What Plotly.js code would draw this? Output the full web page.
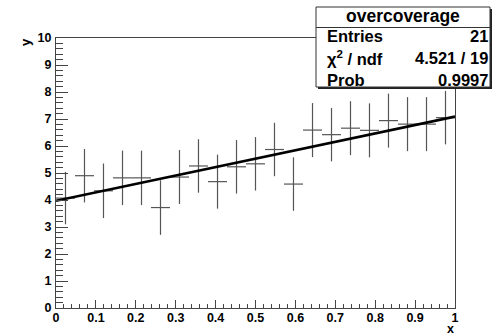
<!DOCTYPE html>
<html>
<head>
<meta charset="utf-8">
<script src="https://cdn.plot.ly/plotly-3.0.1.min.js"></script>
<style>
  html, body { margin: 0; padding: 0; background: #fff; }
  #plot { width: 493px; height: 335px; }
</style>
</head>
<body>
<div id="plot"></div>
<script>
// Bin centres of the 21-bin histogram on [0, 1]
const xVals = [0.0238, 0.0714, 0.1190, 0.1667, 0.2143, 0.2619, 0.3095, 0.3571, 0.4048, 0.4524,
               0.5000, 0.5476, 0.5952, 0.6429, 0.6905, 0.7381, 0.7857, 0.8333, 0.8810, 0.9286, 0.9762];
// Half bin width
const xErr = [0.0238, 0.0238, 0.0238, 0.0238, 0.0238, 0.0238, 0.0238, 0.0238, 0.0238, 0.0238,
              0.0238, 0.0238, 0.0238, 0.0238, 0.0238, 0.0238, 0.0238, 0.0238, 0.0238, 0.0238, 0.0238];
// Bin contents
const yVals = [4.07, 4.90, 4.34, 4.82, 4.82, 3.72, 4.85, 5.26, 4.68, 5.23,
               5.34, 5.87, 4.59, 6.59, 6.42, 6.66, 6.58, 6.94, 6.81, 6.81, 7.05];
// Bin errors
const yErr = [0.97, 0.99, 1.01, 1.01, 1.01, 1.01, 1.00, 0.99, 1.00, 0.99,
              0.99, 0.99, 0.99, 1.00, 0.99, 1.00, 1.00, 1.00, 1.00, 1.00, 0.99];
// Linear fit result: p0 + p1 * x
const fitParams = [3.97, 3.12];
const fitRange = [0, 1];

// Axis tick labels
const xTickVals = [0, 0.1, 0.2, 0.3, 0.4, 0.5, 0.6, 0.7, 0.8, 0.9, 1];
const xTickText = ['0', '0.1', '0.2', '0.3', '0.4', '0.5', '0.6', '0.7', '0.8', '0.9', '1'];
const yTickVals = [0, 1, 2, 3, 4, 5, 6, 7, 8, 9, 10];
const yTickText = ['0', '1', '2', '3', '4', '5', '6', '7', '8', '9', '10'];

// Statistics panel
const statsTitle = 'overcoverage';
const statsLabels = ['Entries', '\u03c7<sup>2</sup> / ndf', 'Prob'];
const statsValues = ['21', '4.521 / 19', '0.9997'];

const font = 'Liberation Sans, Arial, Helvetica, sans-serif';
const axisColor = '#444';
const errColor = '#555';

const fitX = fitRange;
const fitY = fitRange.map(v => fitParams[0] + fitParams[1] * v);

const data = [
  {
    type: 'scatter', mode: 'markers',
    x: xVals, y: yVals,
    marker: { size: 1, color: errColor },
    error_x: { type: 'data', array: xErr, symmetric: true, width: 0, thickness: 1.2, color: errColor },
    error_y: { type: 'data', array: yErr, symmetric: true, width: 0, thickness: 1.2, color: errColor },
    hoverinfo: 'skip', showlegend: false
  },
  {
    type: 'scatter', mode: 'lines',
    x: fitX, y: fitY,
    line: { color: '#000', width: 2.6 },
    hoverinfo: 'skip', showlegend: false
  }
];

// Plot frame in pixels: x 56..455, y 38..308
const L = 56, R = 455, T = 38, B = 308;
const px = v => (v - L) / (R - L);
const py = v => (B - v) / (B - T);

const box = { x0: 316, x1: 490, y0: 7, y1: 87, sep: 27.5 };

const shapes = [
  // shadow
  { type: 'rect', xref: 'paper', yref: 'paper', layer: 'above',
    x0: px(box.x0 + 2), x1: px(box.x1 + 2), y0: py(box.y1 + 2), y1: py(box.y0 + 2),
    fillcolor: '#222', line: { width: 0 } },
  // panel
  { type: 'rect', xref: 'paper', yref: 'paper', layer: 'above',
    x0: px(box.x0), x1: px(box.x1), y0: py(box.y1), y1: py(box.y0),
    fillcolor: '#fff', line: { color: '#333', width: 1 } },
  // header separator
  { type: 'line', xref: 'paper', yref: 'paper', layer: 'above',
    x0: px(box.x0), x1: px(box.x1), y0: py(box.sep), y1: py(box.sep),
    line: { color: '#333', width: 1 } }
];

const statsFont = { family: font, size: 16.5, color: '#000', weight: 'bold' };
const rowY = [36, 58, 79.5];
const annotations = [
  { xref: 'paper', yref: 'paper', x: px((box.x0 + box.x1) / 2), y: py(16),
    text: '<b>' + statsTitle + '</b>', showarrow: false,
    xanchor: 'center', yanchor: 'middle', font: { family: font, size: 17.5, color: '#000', weight: 'bold' } }
];
statsLabels.forEach((lab, i) => {
  annotations.push({ xref: 'paper', yref: 'paper', x: px(325), y: py(rowY[i]),
    text: '<b>' + lab + '</b>', showarrow: false, xanchor: 'left', yanchor: 'middle',
    font: statsFont });
  annotations.push({ xref: 'paper', yref: 'paper', x: px(490), y: py(rowY[i]),
    text: '<b>' + statsValues[i] + '</b>', showarrow: false, xanchor: 'right', yanchor: 'middle',
    font: statsFont });
});
// axis titles
annotations.push({ xref: 'paper', yref: 'paper', x: px(456), y: py(338),
  text: '<b>x</b>', showarrow: false, xanchor: 'right', yanchor: 'bottom',
  font: { family: font, size: 12.5, color: '#000', weight: 'bold' } });
annotations.push({ xref: 'paper', yref: 'paper', x: px(25), y: py(36),
  text: '<b>y</b>', showarrow: false, textangle: -90, xanchor: 'center', yanchor: 'top',
  font: { family: font, size: 13, color: '#000', weight: 'bold' } });

const tickFont = { family: font, size: 12.5, color: '#000', weight: 'bold' };
const bold = arr => arr.map(t => '<b>' + t + '</b>');

const layout = {
  width: 493, height: 335,
  margin: { l: L, r: 493 - R, t: T, b: 335 - B, pad: 0 },
  paper_bgcolor: '#fff', plot_bgcolor: '#fff',
  showlegend: false,
  xaxis: {
    range: [0, 1], tickmode: 'array', tickvals: xTickVals, ticktext: bold(xTickText), tickangle: 0,
    showgrid: false, zeroline: false,
    showline: true, mirror: true, linecolor: axisColor, linewidth: 1,
    ticks: 'inside', ticklen: 8, tickwidth: 1, tickcolor: axisColor,
    minor: { dtick: 0.02, tick0: 0, ticks: 'inside', ticklen: 4, tickwidth: 1, tickcolor: axisColor, showgrid: false },
    tickfont: tickFont, ticklabelstandoff: -2
  },
  yaxis: {
    range: [0, 10], tickmode: 'array', tickvals: yTickVals, ticktext: bold(yTickText),
    showgrid: false, zeroline: false,
    showline: true, mirror: true, linecolor: axisColor, linewidth: 1,
    ticks: 'inside', ticklen: 11.5, tickwidth: 1, tickcolor: axisColor,
    minor: { dtick: 0.2, tick0: 0, ticks: 'inside', ticklen: 6.5, tickwidth: 1, tickcolor: axisColor, showgrid: false },
    tickfont: tickFont, ticklabelstandoff: 1
  },
  shapes: shapes,
  annotations: annotations
};

Plotly.newPlot('plot', data, layout, { staticPlot: true, displayModeBar: false });
</script>
</body>
</html>
